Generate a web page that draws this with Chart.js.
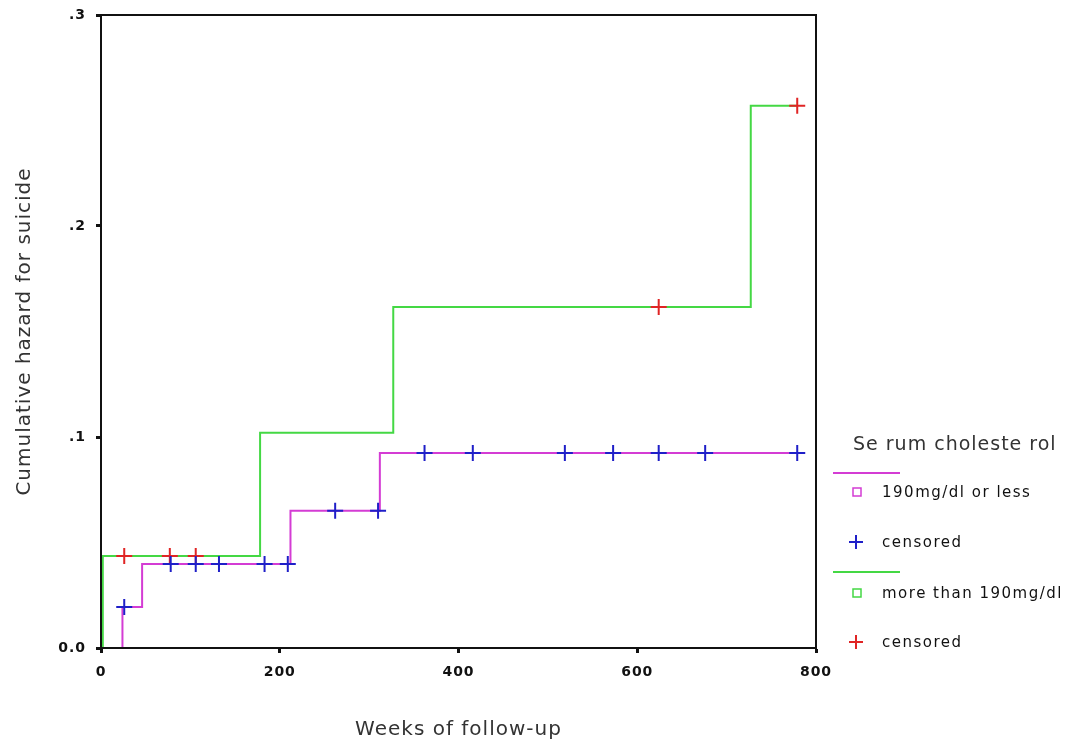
<!DOCTYPE html>
<html>
<head>
<meta charset="utf-8">
<script src="https://cdn.jsdelivr.net/npm/chart.js@4"></script>
<style>
  html, body { margin: 0; padding: 0; background: #fff; }
</style>
</head>
<body>
<canvas id="km" width="1081" height="748"></canvas>
<script>
'use strict';

// curva 190mg/dl or less (magenta)
const lowWeeks = [24, 24, 46, 212, 312, 779];
const lowHazard = [0, 0.0194, 0.0398, 0.065, 0.0924, 0.0924];
const lowCensWeeks = [26, 78, 106, 132, 183, 209, 262, 310, 362, 416, 519, 573, 624, 676, 779];
const lowCensHazard = [0.0194, 0.0398, 0.0398, 0.0398, 0.0398, 0.0398, 0.065, 0.065,
    0.0924, 0.0924, 0.0924, 0.0924, 0.0924, 0.0924, 0.0924];

// curva more than 190mg/dl (verde)
const highWeeks = [2, 2, 178, 327, 727, 779];
const highHazard = [0, 0.0436, 0.102, 0.1616, 0.257, 0.257];
const highCensWeeks = [26, 77, 106, 624, 779];
const highCensHazard = [0.0436, 0.0436, 0.0436, 0.1616, 0.257];

const xTicks = [0, 200, 400, 600, 800];
const yTicks = [0, 0.1, 0.2, 0.3];
const yTickLabels = ['0.0', '.1', '.2', '.3'];

const legendTitle = 'Se rum choleste rol';
const seriesNames = ['190mg/dl or less', 'censored', 'more than 190mg/dl', 'censored'];

const magenta = '#d43cd4';
const green = '#44d844';
const blue = '#1f1fc8';
const red = '#e02424';

let toPoints = (xs, ys) => {
    let pts = [];
    for (let i = 0; i < xs.length; i++) {
        pts.push({ x: xs[i], y: ys[i] });
    }
    return pts;
}

// marco del grafico + leyenda
const framePlugin = {
    id: 'frame',
    beforeDraw(chart) {
        chart.ctx.letterSpacing = '1px';
    },
    afterDraw(chart) {
        const ctx = chart.ctx;
        const a = chart.chartArea;
        ctx.save();
        ctx.strokeStyle = '#111';
        ctx.lineWidth = 2;
        ctx.strokeRect(a.left, a.top, a.right - a.left, a.bottom - a.top);

        // leyenda
        ctx.fillStyle = '#333';
        ctx.textBaseline = 'middle';
        ctx.textAlign = 'left';
        ctx.letterSpacing = '1px';
        ctx.font = '19px "DejaVu Sans"';
        ctx.fillText(legendTitle, 853, 445);

        ctx.font = '15px "DejaVu Sans"';
        ctx.letterSpacing = '1.5px';
        const rows = [
            { line: magenta, y: 473 },
            { square: magenta, y: 492, text: seriesNames[0] },
            { cross: blue, y: 542, text: seriesNames[1] },
            { line: green, y: 572 },
            { square: green, y: 593, text: seriesNames[2] },
            { cross: red, y: 642, text: seriesNames[3] }
        ];
        rows.forEach(r => {
            if (r.line) {
                ctx.strokeStyle = r.line;
                ctx.lineWidth = 2;
                ctx.beginPath();
                ctx.moveTo(833, r.y);
                ctx.lineTo(900, r.y);
                ctx.stroke();
            }
            if (r.square) {
                ctx.strokeStyle = r.square;
                ctx.lineWidth = 1.5;
                ctx.strokeRect(853, r.y - 4, 8, 8);
            }
            if (r.cross) {
                ctx.strokeStyle = r.cross;
                ctx.lineWidth = 2;
                ctx.beginPath();
                ctx.moveTo(849, r.y);
                ctx.lineTo(863, r.y);
                ctx.moveTo(856, r.y - 7);
                ctx.lineTo(856, r.y + 7);
                ctx.stroke();
            }
            if (r.text) {
                ctx.fillStyle = '#111';
                ctx.fillText(r.text, 882, r.y + 1);
            }
        });
        ctx.restore();
    }
};

new Chart(document.getElementById('km'), {
    type: 'line',
    data: {
        datasets: [{
            label: seriesNames[0],
            data: toPoints(lowWeeks, lowHazard),
            borderColor: magenta,
            borderWidth: 2,
            stepped: true,
            pointRadius: 0,
            fill: false,
            order: 2
        }, {
            label: seriesNames[2],
            data: toPoints(highWeeks, highHazard),
            borderColor: green,
            borderWidth: 2,
            stepped: true,
            pointRadius: 0,
            fill: false,
            order: 2
        }, {
            label: seriesNames[1],
            data: toPoints(lowCensWeeks, lowCensHazard),
            showLine: false,
            pointStyle: 'cross',
            pointRadius: 8,
            borderColor: blue,
            borderWidth: 2,
            order: 0
        }, {
            label: seriesNames[3],
            data: toPoints(highCensWeeks, highCensHazard),
            showLine: false,
            pointStyle: 'cross',
            pointRadius: 8,
            borderColor: red,
            borderWidth: 2,
            order: 0
        }]
    },
    options: {
        responsive: false,
        animation: false,
        devicePixelRatio: 1,
        layout: { autoPadding: false, padding: { top: 15, right: 265, left: 0, bottom: 0 } },
        plugins: {
            legend: { display: false },
            tooltip: { enabled: false }
        },
        scales: {
            x: {
                type: 'linear',
                min: 0,
                max: 800,
                afterBuildTicks: (scale) => { scale.ticks = xTicks.map(v => ({ value: v })); },
                afterFit: (scale) => { scale.height = 100; },
                grid: { drawOnChartArea: false, tickLength: 5, color: '#111', tickWidth: 3 },
                border: { color: '#111', width: 2 },
                ticks: {
                    color: '#111',
                    font: { family: 'DejaVu Sans', size: 14, weight: 'bold' },
                    padding: 11,
                    maxRotation: 0,
                    callback: (v) => v
                },
                title: {
                    display: true,
                    text: 'Weeks of follow-up',
                    color: '#333',
                    font: { family: 'DejaVu Sans', size: 20 },
                    padding: { top: 0, bottom: 6 }
                }
            },
            y: {
                type: 'linear',
                min: 0,
                max: 0.3,
                afterBuildTicks: (scale) => { scale.ticks = yTicks.map(v => ({ value: v })); },
                afterFit: (scale) => {
                    scale.width = 101;
                    scale.paddingTop = 0;
                    scale.paddingBottom = 0;
                },
                grid: { drawOnChartArea: false, tickLength: 5, color: '#111', tickWidth: 3 },
                border: { color: '#111', width: 2 },
                ticks: {
                    color: '#111',
                    font: { family: 'DejaVu Sans', size: 14, weight: 'bold' },
                    padding: 10,
                    callback: (v) => yTickLabels[yTicks.indexOf(v)]
                },
                title: {
                    display: true,
                    text: 'Cumulative hazard for suicide',
                    color: '#333',
                    font: { family: 'DejaVu Sans', size: 20 },
                    padding: { top: 13, bottom: 0 }
                }
            }
        }
    },
    plugins: [framePlugin]
});
</script>
</body>
</html>
